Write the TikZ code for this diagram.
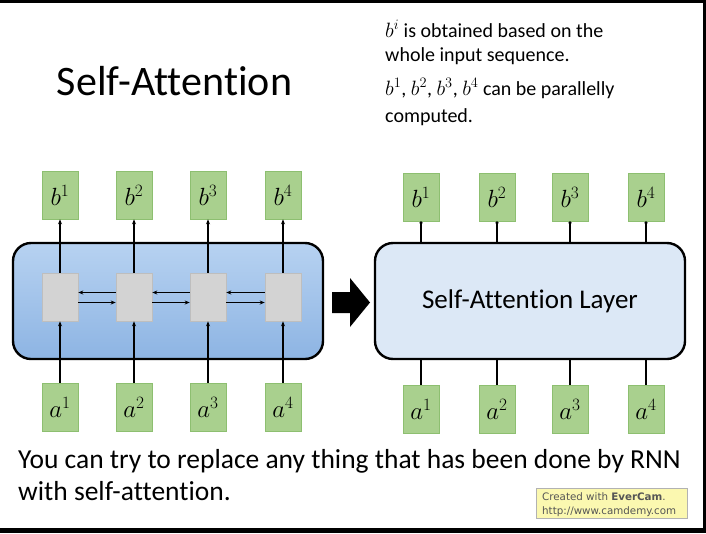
\documentclass[tikz,border=0pt]{standalone}
\usepackage{fontspec}
\setmainfont{Carlito}[Ligatures=NoCommon]
\newfontfamily\evfont{DejaVu Sans}
\usetikzlibrary{arrows.meta,calc}
\definecolor{gfill}{HTML}{A9D08E}
\definecolor{gedge}{HTML}{8DBF70}
\definecolor{bltop}{HTML}{B7D2F1}
\definecolor{blbot}{HTML}{8DB4E3}
\definecolor{lightlayer}{HTML}{DCE8F6}
\definecolor{cellgray}{HTML}{D3D3D3}
\definecolor{celledge}{HTML}{BEBEBE}
\definecolor{evyellow}{HTML}{FBF8B0}
\definecolor{evtext}{HTML}{555555}
\tikzset{
  vecbox/.style={draw=gedge, line width=0.6pt, fill=gfill, minimum width=36pt, minimum height=48pt, inner sep=0pt, font=\fontsize{24}{24}\selectfont},
  cellbox/.style={draw=celledge, line width=0.6pt, fill=cellgray, minimum width=36pt, minimum height=48pt, inner sep=0pt},
  conn/.style={line width=1.2pt, -{Stealth[length=5pt,width=4pt]}},
  plainconn/.style={line width=1.2pt},
  dotconn/.style={line width=1.2pt, -{Circle[length=3pt]}},
  bigbox/.style={draw=black, line width=2.4pt, rounded corners=18pt},
}
\begin{document}
\begin{tikzpicture}[x=1pt,y=-1pt]
% frame
\fill[black] (0,0) rectangle (706,533);
\fill[white] (0,3) rectangle (703,528);
\useasboundingbox (0,0) rectangle (706,533);

% title
\node[anchor=base, font=\fontsize{42}{42}\selectfont] (title) at (174.5,95) {Self-Attention};

% top right notes
\begin{scope}[every node/.style={anchor=base west, inner sep=0pt, font=\fontsize{20}{20}\selectfont}]
\node (n1) at (385,37) {$b^i$ is obtained based on the};
\node (n2) at (385,61) {whole input sequence.};
\node (n3) at (385,95) {$b^1$, $b^2$, $b^3$, $b^4$ can be parallelly};
\node (n4) at (385,122) {computed.};
\end{scope}

% left: RNN
\node[bigbox, top color=bltop, bottom color=blbot, minimum width=310pt, minimum height=116pt] (rnn) at (168,301) {};
\foreach \i/\x in {1/60,2/134,3/208,4/283}{
  \node[vecbox] (lb\i) at (\x,195) {$b^{\i}$};
  \node[vecbox] (la\i) at (\x,407) {$a^{\i}$};
  \node[cellbox] (g\i) at (\x,297) {};
  \draw[conn] (la\i.north) -- (g\i.south);
  \draw[conn] (g\i.north) -- (lb\i.south);
}
\foreach \i/\j in {1/2,2/3,3/4}{
  \draw[conn] ([yshift=4.5pt]g\j.west) -- ([yshift=4.5pt]g\i.east);
  \draw[conn] ([yshift=-5.5pt]g\i.east) -- ([yshift=-5.5pt]g\j.west);
}

% big arrow
\fill[black] (332,292) -- (350,292) -- (350,278) -- (370,302.5) -- (350,327) -- (350,313) -- (332,313) -- cycle;

% right: self-attention layer
\node[bigbox, fill=lightlayer, minimum width=310pt, minimum height=116pt, font=\fontsize{27}{27}\selectfont] (sa) at (530,301) {Self-Attention Layer};
\foreach \i/\x in {1/421,2/497,3/570,4/646}{
  \node[vecbox] (rb\i) at (\x,197) {$b^{\i}$};
  \node[vecbox] (ra\i) at (\x,409) {$a^{\i}$};
  \draw[plainconn] (ra\i.north) -- (ra\i.north |- sa.south);
  \draw[dotconn] (rb\i.south |- sa.north) -- (rb\i.south);
}

% bottom text
\begin{scope}[every node/.style={anchor=base west, inner sep=0pt, font=\fontsize{27.5}{27.5}\selectfont}]
\node (t1) at (18,468) {You can try to replace any thing that has been done by RNN};
\node (t2) at (18,500) {with self-attention.};
\end{scope}

% EverCam badge
\node[draw=black!30, fill=evyellow, minimum width=151pt, minimum height=30pt, inner sep=0pt] (ev) at (611.5,503) {};
\node[anchor=base west, inner sep=0pt, text=evtext, font=\evfont\fontsize{10.3}{10.3}\selectfont] (ev1) at (542,500) {Created with \textbf{EverCam}.};
\node[anchor=base west, inner sep=0pt, text=evtext, font=\evfont\fontsize{10.3}{10.3}\selectfont] (ev2) at (542,514) {http://www.camdemy.com};
\end{tikzpicture}
\end{document}
